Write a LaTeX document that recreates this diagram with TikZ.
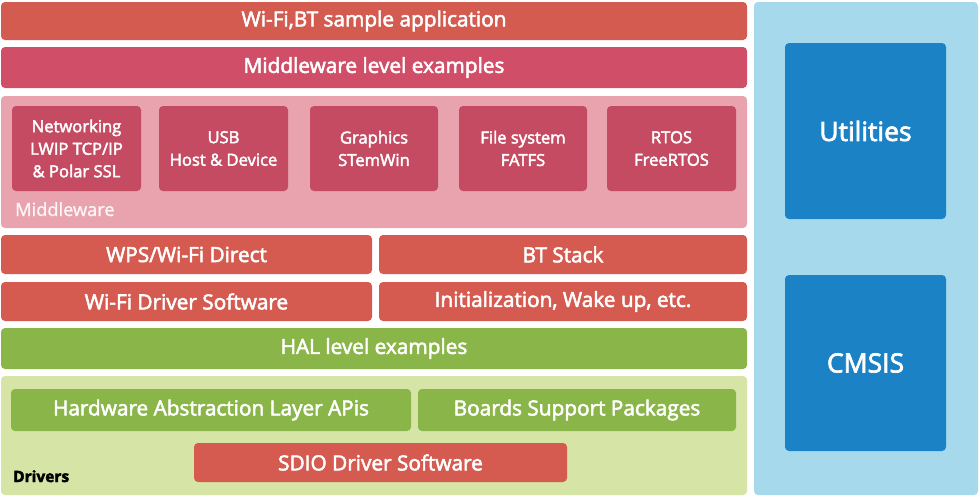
\documentclass[tikz,border=0pt]{standalone}
\usepackage{fontspec}
\setmainfont{Open Sans}[FakeBold=2.6]
\newfontfamily\plainfont{Open Sans}[FakeBold=1.2]
\definecolor{appred}{HTML}{D45B4F}
\definecolor{mwred}{HTML}{D04E68}
\definecolor{mwpink}{HTML}{E8A3AE}
\definecolor{mwbox}{HTML}{C54B63}
\definecolor{drvred}{HTML}{D55B50}
\definecolor{halgreen}{HTML}{8AB548}
\definecolor{drvgreen}{HTML}{D6E5A6}
\definecolor{sidebl}{HTML}{A6D9EC}
\definecolor{utilbl}{HTML}{1C82C6}
\newcommand\blk[7]{%
  \pgfmathsetmacro\bw{#4-#2}\pgfmathsetmacro\bh{#5-#3}%
  \node[#6, minimum width=\bw pt, minimum height=\bh pt, anchor=north west] (#1) at (#2,#3) {#7};}
\begin{document}
\begin{tikzpicture}[x=1pt,y=-1pt,
  base/.style={rounded corners=4pt, inner sep=0pt, outer sep=0pt, text=white, align=center},
  big/.style={base, font=\fontsize{20.8}{22}\selectfont},
  small/.style={base, font=\fontsize{16.6}{22.5}\selectfont},
  huge/.style={base, font=\fontsize{26.5}{28}\selectfont},
  lbl/.style={inner sep=0pt, anchor=base west}]
\useasboundingbox[fill=white] (0,0) rectangle (980,496);
\blk{app}{1}{2}{747}{40}{big, fill=appred}{Wi-Fi,BT sample application}
\blk{mwex}{1}{47}{747}{88}{big, fill=mwred}{Middleware level examples}
\blk{mw}{1}{96}{747}{228}{base, fill=mwpink}{}
\blk{net}{12}{106}{141}{191}{small, fill=mwbox}{Networking\\LWIP TCP/IP\\\& Polar SSL}
\blk{usb}{159}{106}{288}{191}{small, fill=mwbox}{USB\\Host \& Device}
\blk{gfx}{310}{106}{438}{191}{small, fill=mwbox}{Graphics\\STemWin}
\blk{fs}{459}{106}{587}{191}{small, fill=mwbox}{File system\\FATFS}
\blk{rtos}{607}{106}{736}{191}{small, fill=mwbox}{RTOS\\FreeRTOS}
\node[lbl, text=white!90!mwpink, font=\plainfont\fontsize{18.2}{20}\selectfont] (mwlbl) at (15,216) {Middleware};
\blk{wps}{1}{235}{372}{274}{big, fill=drvred}{WPS/Wi-Fi Direct}
\blk{bt}{379}{235}{747}{274}{big, fill=drvred}{BT Stack}
\blk{wifidrv}{1}{282}{372}{321}{big, fill=drvred}{Wi-Fi Driver Software}
\blk{init}{379}{282}{747}{321}{big, fill=drvred}{Initialization, Wake up, etc.}
\blk{hal}{1}{328}{747}{369}{big, fill=halgreen}{HAL level examples}
\blk{drv}{1}{376}{747}{495}{base, fill=drvgreen}{}
\blk{halapi}{11}{389}{411}{431}{big, fill=halgreen}{Hardware Abstraction Layer APis}
\blk{bsp}{418}{389}{736}{431}{big, fill=halgreen}{Boards Support Packages}
\blk{sdio}{194}{443}{567}{482}{big, fill=drvred}{SDIO Driver Software}
\node[lbl, text=black, font=\bfseries\fontsize{15.5}{18}\selectfont] (drvlbl) at (13,482) {Drivers};
\blk{side}{754}{2}{978}{495}{base, fill=sidebl}{}
\blk{util}{785}{43}{946}{219}{huge, fill=utilbl}{Utilities}
\blk{cmsis}{785}{275}{946}{451}{huge, fill=utilbl}{CMSIS}
\end{tikzpicture}
\end{document}
